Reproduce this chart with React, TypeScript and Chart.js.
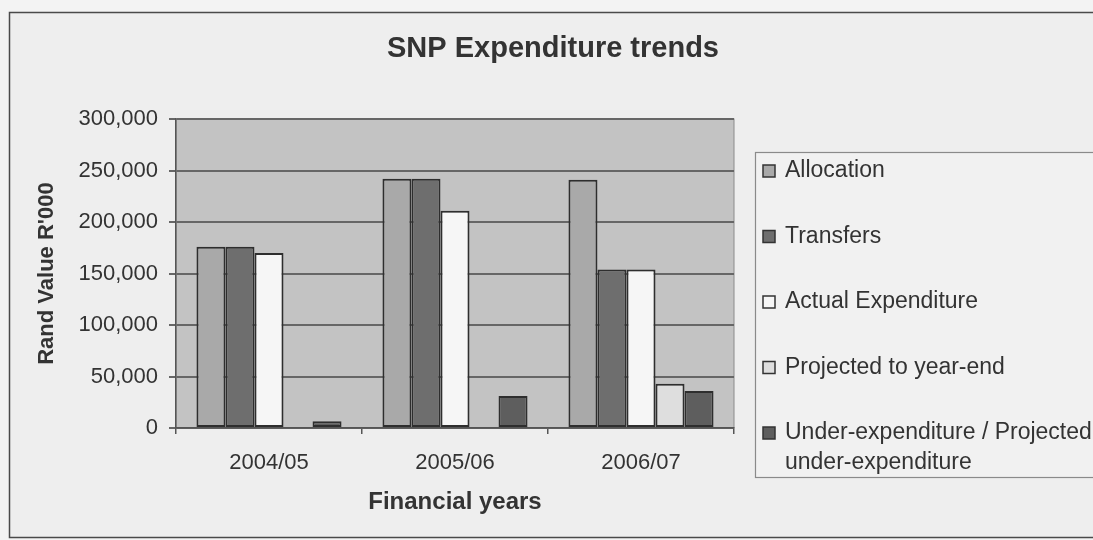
import React, { useEffect, useRef } from "react";
import { Chart, registerables } from "chart.js";

Chart.register(...registerables);

// ---- data ----
const chartTitle = "SNP Expenditure trends";
const yAxisTitle = "Rand Value R'000";
const xAxisTitle = "Financial years";
const categories = ["2004/05", "2005/06", "2006/07"];
const seriesLabels = [
  "Allocation",
  "Transfers",
  "Actual Expenditure",
  "Projected to year-end",
  "Under-expenditure / Projected\nunder-expenditure",
];
const allocation = [176000, 242000, 241000];
const transfers = [176000, 242000, 154000];
const actualExpenditure = [170000, 211000, 154000];
const projectedToYearEnd: (number | null)[] = [null, null, 43000];
const underExpenditure = [6500, 31000, 36000];
const yMin = 0;
const yMax = 300000;
const yStep = 50000;

const FONT = "'Liberation Sans', Arial, Helvetica, sans-serif";
const seriesColors = ["#a9a9a9", "#6e6e6e", "#f6f6f6", "#dedede", "#5e5e5e"];

const decorPlugin = {
  id: "decor",
  beforeDraw(chart: any) {
    const { ctx, chartArea: a } = chart;
    ctx.save();
    ctx.fillStyle = "#f3f3f3";
    ctx.fillRect(0, 0, chart.width, chart.height);
    ctx.fillStyle = "#eeeeee";
    ctx.fillRect(9, 12, chart.width, 526);
    ctx.strokeStyle = "#4a4a4a";
    ctx.lineWidth = 1.5;
    ctx.strokeRect(9.5, 12.5, chart.width + 20, 525);
    ctx.fillStyle = "#c3c3c3";
    ctx.fillRect(a.left, a.top, a.right - a.left, a.bottom - a.top);
    ctx.strokeStyle = "#8a8a8a";
    ctx.lineWidth = 1;
    ctx.strokeRect(a.left, a.top, a.right - a.left, a.bottom - a.top);
    ctx.restore();
  },
  afterDraw(chart: any) {
    const { ctx } = chart;
    ctx.save();
    // title
    ctx.fillStyle = "#333333";
    ctx.font = `bold 29px ${FONT}`;
    ctx.textAlign = "center";
    ctx.textBaseline = "middle";
    ctx.fillText(chartTitle, 553, 49);
    // legend box
    ctx.fillStyle = "#f1f1f1";
    ctx.fillRect(755, 152, 400, 326);
    ctx.strokeStyle = "#8a8a8a";
    ctx.lineWidth = 1.2;
    ctx.strokeRect(755.5, 152.5, 400, 325);
    ctx.font = `23px ${FONT}`;
    ctx.textAlign = "left";
    chart.data.datasets.forEach((ds: any, i: number) => {
      const y = 171 + i * 65.5;
      ctx.fillStyle = ds.backgroundColor;
      ctx.fillRect(763, y - 6, 12, 12);
      ctx.strokeStyle = "#333333";
      ctx.lineWidth = 1.5;
      ctx.strokeRect(763, y - 6, 12, 12);
      ctx.fillStyle = "#333333";
      String(ds.label)
        .split("\n")
        .forEach((line: string, j: number) => {
          ctx.fillText(line, 785, y + j * 30);
        });
    });
    ctx.restore();
  },
};

export default function App() {
  const ref = useRef<HTMLCanvasElement | null>(null);
  useEffect(() => {
    if (!ref.current) return;
    const seriesData = [allocation, transfers, actualExpenditure, projectedToYearEnd, underExpenditure];
    const chart = new Chart(ref.current, {
      type: "bar",
      data: {
        labels: categories,
        datasets: seriesLabels.map((label, i) => ({
          label,
          data: seriesData[i],
          backgroundColor: seriesColors[i],
          borderColor: "#2e2e2e",
          borderWidth: 2,
          borderSkipped: false,
          categoryPercentage: 0.78,
          barPercentage: 1,
        })),
      },
      options: {
        animation: false,
        responsive: false,
        devicePixelRatio: 1,
        layout: { padding: { left: 30, right: 359, top: 119, bottom: 0 } },
        plugins: {
          legend: { display: false },
          title: { display: false },
          tooltip: { enabled: false },
        },
        scales: {
          x: {
            type: "category",
            afterFit: (s: any) => {
              s.height = 112;
            },
            grid: {
              offset: true,
              drawOnChartArea: false,
              drawTicks: true,
              tickLength: 6,
              color: "#555555",
              lineWidth: 1.5,
            },
            border: { display: true, color: "#555555", width: 1.5 },
            ticks: {
              color: "#333333",
              font: { family: FONT, size: 22 },
              padding: 16,
              maxRotation: 0,
            },
            title: {
              display: true,
              text: xAxisTitle,
              color: "#333333",
              font: { family: FONT, size: 24, weight: "bold" },
              padding: { top: 4, bottom: 23 },
            },
          },
          y: {
            min: yMin,
            max: yMax,
            afterFit: (s: any) => {
              s.width = 146;
            },
            ticks: {
              stepSize: yStep,
              color: "#333333",
              font: { family: FONT, size: 22 },
              padding: 11,
              callback: (v: any) => Number(v).toLocaleString("en-US"),
            },
            grid: {
              color: "#666666",
              lineWidth: 2,
              drawTicks: true,
              tickLength: 7,
            },
            border: { display: true, color: "#555555", width: 1.5 },
            title: {
              display: true,
              text: yAxisTitle,
              color: "#333333",
              font: { family: FONT, size: 22, weight: "bold" },
              padding: { top: 4, bottom: 4 },
            },
          },
        },
      },
      plugins: [decorPlugin],
    } as any);
    return () => chart.destroy();
  }, []);
  return (
    <div style={{ position: "fixed", left: 0, top: 0, width: 1093, height: 540 }}>
      <canvas ref={ref} width={1093} height={540} style={{ display: "block" }} />
    </div>
  );
}
